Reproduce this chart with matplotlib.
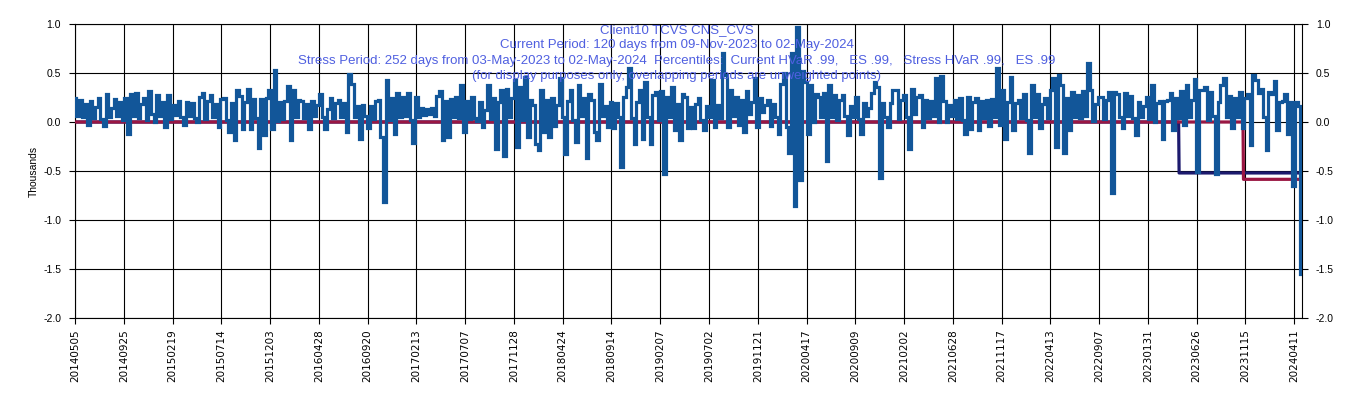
import numpy as np
import matplotlib.pyplot as plt

plt.rcParams["font.family"] = ["Liberation Sans", "DejaVu Sans"]

# daily P&L (thousands) left to right
pnl_2014_2016 = [
    0.25, 0.06, 0.22, 0.05, 0.18, -0.03, 0.21, 0.04, 0.15, 0.24, 0.03, -0.04, 0.29, 0.05, 0.14, 0.23,
    0.06, 0.20, 0.02, 0.24, -0.12, 0.29, 0.06, 0.30, 0.04, 0.18, 0.24, 0.02, 0.32, 0.08, 0.00, 0.28,
    0.06, 0.20, -0.05, 0.28, 0.03, 0.17, 0.07, 0.21, 0.05, -0.03, 0.20, 0.06, 0.19, 0.04, 0.00, 0.26,
    0.30, 0.03, 0.21, 0.28, 0.05, 0.18, -0.05, 0.23, 0.25, 0.02, -0.10, 0.19, -0.18, 0.33, 0.27, -0.07,
    0.20, 0.34, -0.07, 0.23, 0.04, -0.27, 0.23, -0.13, 0.24, 0.33, -0.07, 0.53, 0.01,
]
pnl_2016_2018 = [
    0.20, 0.03, 0.21, 0.37, -0.18, 0.33, 0.05, 0.22, 0.21, 0.04, 0.18, -0.07, 0.21, 0.06, 0.17, 0.29,
    0.05, -0.07, 0.13, 0.24, 0.04, 0.19, 0.22, 0.05, 0.19, -0.10, 0.49, 0.39, 0.05, 0.16, -0.17, 0.17,
    0.06, -0.06, 0.16, 0.03, 0.21, 0.22, -0.15, -0.82, 0.43, 0.02, 0.25, -0.12, 0.30, 0.05, 0.26, 0.06,
    0.30, 0.02, -0.21, 0.26, 0.05, 0.14, 0.07, 0.13, 0.08, 0.14, 0.06, 0.27, 0.32, -0.18, 0.21, -0.15,
    0.23, 0.05, 0.26, 0.04, 0.38, -0.10, 0.21, 0.03, 0.26, 0.04, 0.01, 0.20, -0.05,
]
pnl_2018_2020 = [
    0.12, 0.38, 0.03, 0.25, -0.28, 0.20, 0.33, -0.35, 0.34, 0.05, 0.24, 0.43, -0.25, 0.36, 0.02, 0.46,
    -0.15, 0.22, 0.17, -0.22, -0.29, 0.33, -0.10, 0.22, -0.15, 0.25, -0.04, 0.17, 0.45, 0.05, -0.33, 0.21,
    0.33, 0.02, -0.20, 0.38, 0.06, 0.25, -0.37, 0.29, 0.22, -0.10, -0.18, 0.39, 0.06, 0.16, -0.05, 0.20,
    -0.06, 0.19, 0.05, -0.46, 0.26, 0.36, 0.55, 0.04, -0.22, 0.20, 0.33, -0.17, 0.41, 0.05, -0.22, 0.28,
    0.31, 0.02, 0.32, -0.53, 0.26, 0.05, 0.36, -0.08, 0.18, -0.18, 0.29, 0.26, -0.06,
]
pnl_2020_2022 = [
    0.15, -0.06, 0.18, 0.25, 0.02, -0.08, 0.16, 0.05, 0.43, -0.05, 0.17, 0.04, 0.70, 0.48, -0.05, 0.33,
    0.06, 0.26, -0.03, 0.22, -0.10, 0.32, 0.08, 0.20, 0.45, -0.05, 0.24, 0.10, 0.17, 0.22, -0.04, 0.18,
    0.05, -0.12, 0.39, 0.50, -0.05, -0.32, 0.70, -0.86, 0.97, -0.59, 0.52, 0.41, -0.12, 0.38, 0.00, 0.29,
    0.26, 0.05, 0.30, -0.40, 0.38, 0.05, 0.28, 0.02, 0.22, 0.28, 0.06, -0.13, 0.16, 0.05, 0.26, 0.03,
    -0.12, 0.19, 0.06, 0.14, 0.30, 0.41, 0.36, -0.57, 0.19, 0.05, -0.05, 0.19, 0.33,
]
pnl_2022_2023 = [
    0.33, 0.03, 0.22, 0.28, 0.05, -0.28, 0.34, 0.08, 0.26, 0.28, -0.05, 0.22, 0.04, 0.21, 0.06, 0.45,
    0.00, 0.47, 0.21, 0.00, 0.17, 0.06, 0.22, 0.03, 0.24, 0.02, -0.12, 0.26, -0.07, 0.20, 0.24, -0.08,
    0.21, 0.04, 0.22, -0.04, 0.23, 0.05, 0.55, -0.03, 0.33, -0.17, 0.20, 0.46, -0.08, 0.19, 0.22, 0.04,
    0.29, 0.02, -0.32, 0.38, 0.05, 0.29, -0.06, 0.18, 0.24, 0.04, 0.33, 0.45, -0.26, 0.48, 0.38, -0.32,
    0.24, -0.08, 0.31, 0.05, 0.28, 0.04, 0.32, 0.06, 0.60, 0.33, 0.01, 0.18, 0.26,
]
pnl_2023_2024 = [
    0.26, 0.03, 0.22, 0.31, -0.72, 0.31, 0.29, 0.05, -0.06, 0.30, 0.06, 0.27, 0.04, -0.13, 0.20, 0.05,
    0.16, 0.26, 0.03, 0.38, 0.00, 0.19, 0.21, -0.17, 0.21, 0.22, 0.30, -0.08, 0.24, 0.04, 0.32, -0.03,
    0.38, 0.05, 0.22, 0.44, -0.51, 0.33, 0.33, 0.36, 0.02, 0.31, 0.06, -0.53, 0.20, 0.38, 0.45, 0.05,
    0.27, -0.06, 0.25, 0.05, 0.31, -0.06, 0.24, 0.29, -0.23, 0.48, 0.43, 0.30, 0.34, 0.05, -0.29, 0.31,
    0.29, 0.42, -0.08, 0.20, 0.21, 0.29, -0.12, 0.20, -0.65, 0.20, 0.16, -1.55,
]

date_labels = [
    "20140505", "20140925", "20150219", "20150714", "20151203", "20160428", "20160920",
    "20170213", "20170707", "20171128", "20180424", "20180914", "20190207", "20190702",
    "20191121", "20200417", "20200909", "20210202", "20210628", "20211117", "20220413",
    "20220907", "20230131", "20230626", "20231115", "20240411",
]
label_step = 100
n_days = 2516

current_days = 120
stress_days = 252
current_hvar = -0.585
stress_hvar = -0.52

title_lines = [
    "Client10 TCVS CNS_CVS",
    "Current Period: 120 days from 09-Nov-2023 to 02-May-2024",
    "Stress Period: 252 days from 03-May-2023 to 02-May-2024  Percentiles:  Current HVaR .99,   ES .99,   Stress HVaR .99,   ES .99",
    "(for display purposes only, overlapping periods are unweighted points)",
]

pnl = np.array(pnl_2014_2016 + pnl_2016_2018 + pnl_2018_2020
               + pnl_2020_2022 + pnl_2022_2023 + pnl_2023_2024)
x_pnl = np.linspace(0, n_days - 1, len(pnl))

days = np.arange(n_days)
current_line = np.where(days >= n_days - current_days, current_hvar, 0.0)
stress_line = np.where(days >= n_days - stress_days, stress_hvar, 0.0)

# ---
fig = plt.figure(figsize=(13.53, 3.98), dpi=100)
ax = fig.add_axes([75 / 1353, 1 - 318 / 398, 1227 / 1353, 294 / 398])

ax.plot(days, stress_line, color="#1c1a6e", lw=2.3, zorder=2)
ax.plot(days, current_line, color="#9a1743", lw=2.3, zorder=3)
ax.plot(x_pnl, pnl, color="#125699", lw=2.3, drawstyle="steps-mid",
        solid_joinstyle="miter", zorder=4)

ax.set_xlim(0, n_days)
ax.set_ylim(-2.0, 1.0)
ax.set_yticks(np.arange(-2.0, 1.01, 0.5))
ax.yaxis.set_major_formatter(plt.FuncFormatter(lambda v, p: f"{v:.1f}"))
ax.set_xticks(np.arange(len(date_labels)) * label_step)
ax.set_xticklabels(date_labels, rotation=90, family="DejaVu Sans", fontsize=7.5)

ax.grid(True, color="black", lw=0.8)
ax.set_axisbelow(True)
for s in ax.spines.values():
    s.set_color("black")
    s.set_linewidth(0.8)

ax.tick_params(axis="y", direction="out", length=4, width=0.8, labelsize=7.5,
               right=True, labelright=True, pad=6)
ax.tick_params(axis="x", direction="out", length=4, width=0.8, pad=4)
ax.set_ylabel("Thousands", fontsize=7.5, labelpad=3)

for i, line in enumerate(title_lines):
    fig.text(0.5, 1 - (30 + 15.4 * i) / 398, line, ha="center", va="center",
             color="#4f5fe0", fontsize=9.5, zorder=10)

plt.savefig("out.png", dpi=100)
